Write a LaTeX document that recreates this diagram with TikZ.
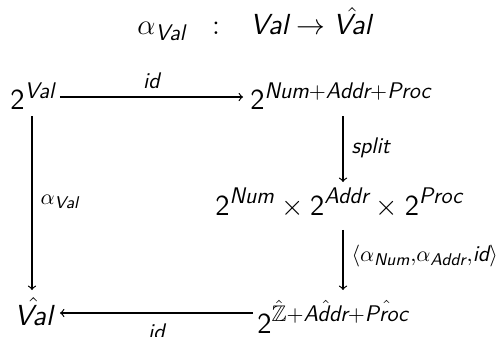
\documentclass[tikz,border=0pt]{standalone}
\usepackage{amsmath,amssymb}
\DeclareMathSizes{14.5}{14.5}{11.3}{8.5}
\newcommand\si[1]{\textsf{\slshape #1}}
\newcommand\two{\textsf{2}}
\begin{document}
\begin{tikzpicture}[x=0.5pt,y=-0.5pt,
  every node/.style={font=\fontsize{14.5}{17}\selectfont, inner sep=2pt},
  obj/.style={anchor=base west},
  arr/.style={->, line width=0.6pt}]
\useasboundingbox (0,0) rectangle (501,336);
\node[obj] (title) at (133,35) {$\alpha_{\si{Val}}$\hspace{13pt}:\hspace{15pt}$\si{Val}\rightarrow\hat{\si{Val}}$};
\node[obj] (n1) at (6,110) {$\two^{\si{Val}}$};
\node[obj] (n2) at (246,110) {$\two^{\si{Num}+\si{Addr}+\si{Proc}}$};
\node[obj] (n3) at (211,215) {$\two^{\si{Num}}\times\two^{\si{Addr}}\times\two^{\si{Proc}}$};
\node[obj] (n4) at (253,333) {$\two^{\hat{\mathbb{Z}}+\hat{\si{Addr}}+\hat{\si{Proc}}}$};
\node[obj] (n5) at (10,325) {$\hat{\si{Val}}$};
% arrow end points
\coordinate (e12) at (243,97);
\coordinate (e23) at (343,182);
\coordinate (e34) at (343,290);
\coordinate (e15) at (32,290);
\coordinate (e45) at (60,313);
\draw[arr] (n1.east |- e12) -- node[above=2pt]{$\scriptstyle\si{id}$} (e12);
\draw[arr, shorten <=1pt] (n2.south -| e23) -- node[right=2pt]{$\scriptstyle\si{split}$} (e23);
\draw[arr, shorten <=4pt] (n3.south -| e34) -- node[right=2pt]{$\scriptstyle\langle\alpha_{\si{Num}},\alpha_{\si{Addr}},\si{id}\rangle$} (e34);
\draw[arr, shorten <=1pt] (n1.south -| e15) -- node[right=2pt]{$\scriptstyle\alpha_{\si{Val}}$} (e15);
\draw[arr] (n4.west |- e45) -- node[below=3pt]{$\scriptstyle\si{id}$} (e45);
\end{tikzpicture}
\end{document}
